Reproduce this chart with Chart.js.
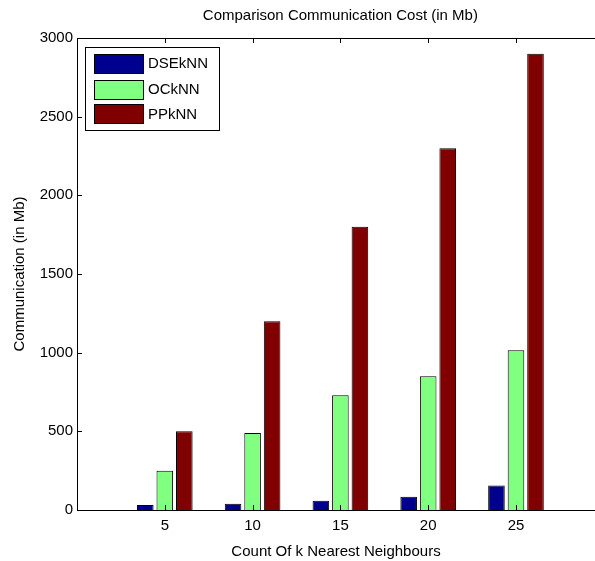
<!DOCTYPE html>
<html>
<head>
<meta charset="utf-8">
<script src="https://cdn.jsdelivr.net/npm/chart.js@4/dist/chart.umd.min.js"></script>
<style>
  html, body { margin: 0; padding: 0; background: #fff; overflow: hidden; }
  #wrap { width: 595px; height: 561px; }
</style>
</head>
<body>
<div id="wrap"><canvas id="c" width="595" height="561"></canvas></div>
<script>
// ---- data ----
const categories = [5, 10, 15, 20, 25];
const dseknn = [32, 40, 59, 85, 155];
const ocknn = [250, 490, 730, 850, 1015];
const ppknn = [500, 1200, 1800, 2300, 2900];
const yTicks = [0, 500, 1000, 1500, 2000, 2500, 3000];
const seriesNames = ['DSEkNN', 'OCkNN', 'PPkNN'];
const titleText = 'Comparison Communication Cost (in Mb)';
const xTitle = 'Count Of k Nearest Neighbours';
const yTitle = 'Communication (in Mb)';

const colors = ['#00008F', '#80FF80', '#800000'];
const FONT = '"Liberation Sans", Arial, Helvetica, sans-serif';

const toPts = arr => arr.map((v, i) => ({ x: categories[i], y: v }));

const matlabPlugin = {
  id: 'matlab',
  afterDraw(chart) {
    const ctx = chart.ctx;
    const a = chart.chartArea;
    const xs = chart.scales.x, ys = chart.scales.y;
    const right = xs.getPixelForValue(30);
    ctx.save();
    // box (right edge falls outside the picture, as in the reference)
    ctx.strokeStyle = '#000';
    ctx.lineWidth = 1;
    ctx.strokeRect(Math.round(a.left) + 0.5, Math.round(a.top) + 0.5,
                   Math.round(right - a.left), Math.round(a.bottom - a.top));
    // inward ticks
    ctx.beginPath();
    categories.forEach(c => {
      const px = Math.round(xs.getPixelForValue(c)) + 0.5;
      ctx.moveTo(px, a.bottom); ctx.lineTo(px, a.bottom - 5);
      ctx.moveTo(px, a.top); ctx.lineTo(px, a.top + 5);
    });
    yTicks.forEach(t => {
      const py = Math.round(ys.getPixelForValue(t)) + 0.5;
      ctx.moveTo(a.left, py); ctx.lineTo(a.left + 5, py);
    });
    ctx.stroke();
    // title
    ctx.fillStyle = '#000';
    ctx.font = '15px ' + FONT;
    ctx.textAlign = 'center';
    ctx.textBaseline = 'middle';
    ctx.fillText(titleText, (a.left + right) / 2, 16);
    // legend
    const lx = 85, ly = 47, lw = 134, lh = 83;
    ctx.fillStyle = '#fff';
    ctx.fillRect(lx, ly, lw, lh);
    ctx.strokeStyle = '#000';
    ctx.strokeRect(lx + 0.5, ly + 0.5, lw, lh);
    const rowY = [63, 89, 113.5];
    chart.data.datasets.forEach((ds, i) => {
      const cy = rowY[i];
      ctx.fillStyle = ds.backgroundColor;
      ctx.fillRect(94, Math.round(cy - 9.5), 49, 19);
      ctx.strokeStyle = '#000';
      ctx.strokeRect(94.5, Math.round(cy - 9.5) + 0.5, 49, 19);
      ctx.fillStyle = '#000';
      ctx.textAlign = 'left';
      ctx.textBaseline = 'middle';
      ctx.fillText(ds.label, 148, cy + 1);
    });
    ctx.restore();
  }
};

new Chart(document.getElementById('c'), {
  type: 'bar',
  data: {
    datasets: [
      { label: seriesNames[0], data: toPts(dseknn), backgroundColor: colors[0] },
      { label: seriesNames[1], data: toPts(ocknn), backgroundColor: colors[1] },
      { label: seriesNames[2], data: toPts(ppknn), backgroundColor: colors[2] }
    ].map(d => Object.assign(d, {
      borderColor: '#000', borderWidth: 1,
      categoryPercentage: 0.667, barPercentage: 0.85
    }))
  },
  plugins: [matlabPlugin],
  options: {
    responsive: false,
    animation: false,
    layout: { padding: { top: 38, right: 0, left: 0, bottom: 0 } },
    plugins: { legend: { display: false }, title: { display: false }, tooltip: { enabled: false } },
    scales: {
      x: {
        type: 'linear', min: 0, max: 29.5, offset: false,
        afterFit: s => { s.height = 51; },
        afterBuildTicks: s => { s.ticks = categories.map(v => ({ value: v })); },
        grid: { display: false, drawTicks: false },
        border: { display: false },
        ticks: { color: '#000', font: { size: 15, family: FONT }, padding: 7, maxRotation: 0,
                 callback: v => String(v) },
        title: { display: true, text: xTitle, color: '#000', font: { size: 15, family: FONT }, padding: { top: 0, bottom: 0 } }
      },
      y: {
        min: 0, max: 3000,
        afterFit: s => { s.width = 77; },
        afterBuildTicks: s => { s.ticks = yTicks.map(v => ({ value: v })); },
        grid: { display: false, drawTicks: false },
        border: { display: false },
        ticks: { color: '#000', font: { size: 15, family: FONT }, padding: 4,
                 callback: v => String(v) },
        title: { display: true, text: yTitle, color: '#000', font: { size: 15, family: FONT }, padding: { top: 11, bottom: 0 } }
      }
    }
  }
});
</script>
</body>
</html>
